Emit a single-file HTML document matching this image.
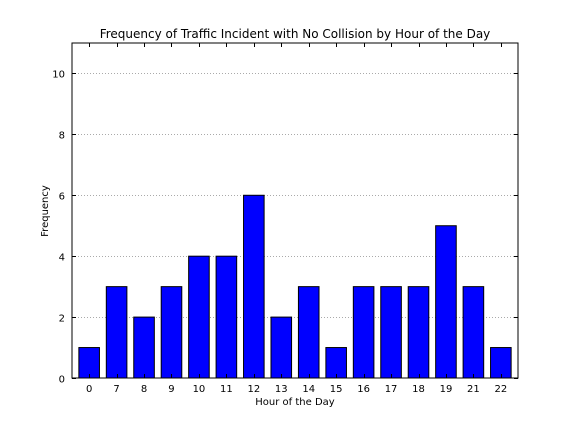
<!DOCTYPE html>
<html><head><meta charset="utf-8"><style>
body{margin:0;background:#fff;}
svg{display:block;font-family:"DejaVu Sans","Liberation Sans",sans-serif;}
</style></head><body>
<svg id="chart" width="576" height="432">
<rect x="0" y="0" width="576" height="432" fill="#fff"/>
<text x="295" y="38" text-anchor="middle" font-size="12">Frequency of Traffic Incident with No Collision by Hour of the Day</text>
<text x="295" y="405" text-anchor="middle" font-size="10">Hour of the Day</text>
<text x="48" y="211" text-anchor="middle" font-size="10" transform="rotate(-90 48 211)">Frequency</text>
<g id="grid"></g><g id="bars"></g><g id="ticks"></g>
<rect x="72" y="43" width="446" height="335" fill="none" stroke="#000" stroke-width="1"/>
</svg>
<script>
const categories = ["0","7","8","9","10","11","12","13","14","15","16","17","18","19","21","22"];
const values = [1,3,2,3,4,4,6,2,3,1,3,3,3,5,3,1];
const yTicks = [0,2,4,6,8,10];
const L=72,R=518,T=43,B=378, yMax=11, xMin=-0.625, xMax=15.625, bw=0.75;
const ns="http://www.w3.org/2000/svg";
function xs(v){return L+(v-xMin)/(xMax-xMin)*(R-L);}
function ys(v){return B-v/yMax*(B-T);}
function mk(tag,attrs,parent){const e=document.createElementNS(ns,tag);for(const k in attrs)e.setAttribute(k,attrs[k]);document.getElementById(parent).appendChild(e);return e;}
yTicks.forEach(t=>{
  const y=Math.round(ys(t))+0.5;
  if(t>0){const g=mk('line',{x1:L,x2:R,y1:y,y2:y,stroke:'#aaa','stroke-dasharray':'1,2','stroke-width':1},'grid');
  
  }
  const a=mk('line',{x1:L,x2:L+4,y1:y,y2:y,stroke:'#000'},'ticks');
  
  
  const b=mk('line',{x1:R-4,x2:R,y1:y,y2:y,stroke:'#000'},'ticks');
  
  
  const tx=mk('text',{x:L-7,y:y+4,'text-anchor':'end','font-size':10},'ticks');tx.textContent=t;
  
  
});
categories.forEach((c,i)=>{
  const x0=xs(i-bw/2),x1=xs(i+bw/2),y=ys(values[i]);
  const r=mk('rect',{x:x0,y:y,width:x1-x0,height:B-y,fill:'#0000ff',stroke:'#000','stroke-width':1},'bars');
  
  
  const cx=Math.round(xs(i))+0.5;
  const t1=mk('line',{x1:cx,x2:cx,y1:B,y2:B-4,stroke:'#000'},'ticks');
  
  
  const t2=mk('line',{x1:cx,x2:cx,y1:T,y2:T+4,stroke:'#000'},'ticks');
  
  
  const tx=mk('text',{x:xs(i),y:B+14,'text-anchor':'middle','font-size':10},'ticks');tx.textContent=c;
  
  
});
</script>
</body></html>
